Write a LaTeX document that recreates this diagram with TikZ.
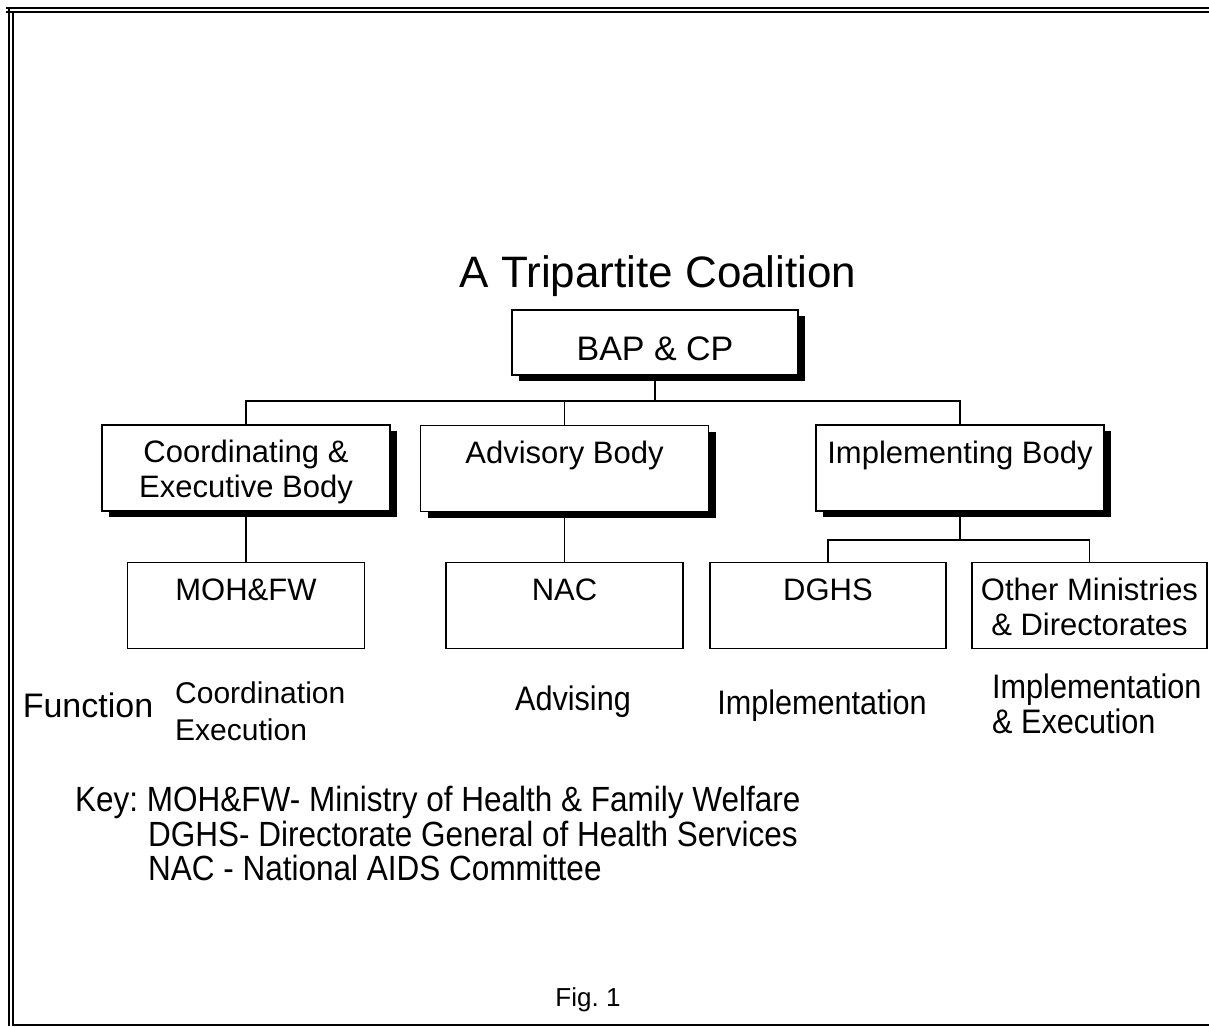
\documentclass[tikz,border=0pt]{standalone}
\usepackage{fontspec}
\setmainfont{Liberation Sans}
\newfontfamily\narrowsf[FakeStretch=0.9]{Liberation Sans}
\usetikzlibrary{shadows}
\newcommand{\hiline}{\rule{0pt}{30pt}}
\newcommand{\loline}{\rule[-5pt]{0pt}{5pt}}

\begin{document}
\frenchspacing
\begin{tikzpicture}[x=1pt,y=-1pt]
  \tikzstyle{every node}=[inner sep=0pt]
  \tikzstyle{conn}=[line width=1.4pt]
  \tikzstyle{shadowed}=[drop shadow={shadow xshift=7pt,shadow yshift=-6pt,fill=black,opacity=1}]
  \tikzstyle{topbox}=[draw,line width=1.6pt,fill=white,shadowed,minimum width=286pt,minimum height=65pt,text height=40pt,text depth=5pt,font=\fontsize{34}{40}\selectfont]
  \tikzstyle{bodybox}=[draw,line width=1.6pt,fill=white,shadowed,minimum width=288pt,minimum height=86pt,align=center,font=\fontsize{31}{35}\selectfont]
  \tikzstyle{unitbox}=[draw,line width=1.4pt,fill=white,minimum height=86pt,align=center,font=\fontsize{31}{35}\selectfont]
  \tikzstyle{note}=[font=\narrowsf\fontsize{34}{35}\selectfont]
  \tikzstyle{keynote}=[anchor=west,font=\narrowsf\fontsize{35}{35}\selectfont]
  \useasboundingbox (0,0) rectangle (1209,1026);
  % frame, open on the right
  \draw[line width=2.8pt] (6,8) -- (1209,8) (9,8) -- (9,1026);
  \draw[line width=2.2pt] (6,11.8) -- (1209,11.8) (13.3,11.8) -- (13.3,1026);
  \draw[line width=2pt] (13.3,1025) -- (1209,1025);
  \path (658,276) node (title) {\fontsize{44}{50}\selectfont A Tripartite Coalition};
  \path (655,342.5) node[topbox] (bap) {BAP \& CP};
\path (246,468) node[bodybox] (coord) {\hiline Coordinating \&\\\loline Executive Body};
\path (564.5,468.5) node[bodybox] (adv) {\hiline Advisory Body\\\loline};
\path (960,468) node[bodybox] (impl) {\hiline Implementing Body\\\loline};
  \path (246,605.5) node[unitbox,minimum width=237pt] (moh) {\hiline MOH\&FW\\\loline};
\path (564.5,605.5) node[unitbox,minimum width=237pt] (nac) {\hiline NAC\\\loline};
\path (828,605.5) node[unitbox,minimum width=236pt] (dghs) {\hiline DGHS\\\loline};
\path (1089.5,605.5) node[unitbox,minimum width=235pt] (other) {\hiline Other Ministries\\\loline \& Directorates};
  \coordinate (fork) at (655,401);
  \coordinate (split) at (960,540);
  \draw[conn] (bap.south) -- (fork)
        (fork) -| (coord.north)
 (fork) -| (adv.north)
        (fork) -| (impl.north)
        (coord.south) -- (moh.north)
        (adv.south) -- (nac.north)
        (impl.south) -- (split)
 (split) -| (dghs.north)
        (split) -| (other.north);
  % functions
  \path (88,705) node (fn) {\fontsize{34}{40}\selectfont Function};
  \path (175,711) node[anchor=west,align=left,font=\fontsize{30}{37}\selectfont] (fcoord) {Coordination\\Execution};
  \path (573,702) node[note] (fadv) {Advising};
  \path (822,706) node[note] (fimpl) {Implementation};
  \path (992,703.5) node[note,anchor=west,align=left] (fother) {Implementation\\\& Execution};
  % key
  \path (75,802) node[keynote] (key1) {Key: MOH\&FW- Ministry of Health \& Family Welfare};
\path (148,834) node[keynote] (key2) {DGHS- Directorate General of Health Services};
\path (148,868) node[keynote] (key3) {NAC - National AIDS Committee};
  \path (588,1000) node[font=\fontsize{26}{30}\selectfont] (fig) {Fig. 1};
\end{tikzpicture}
\end{document}
